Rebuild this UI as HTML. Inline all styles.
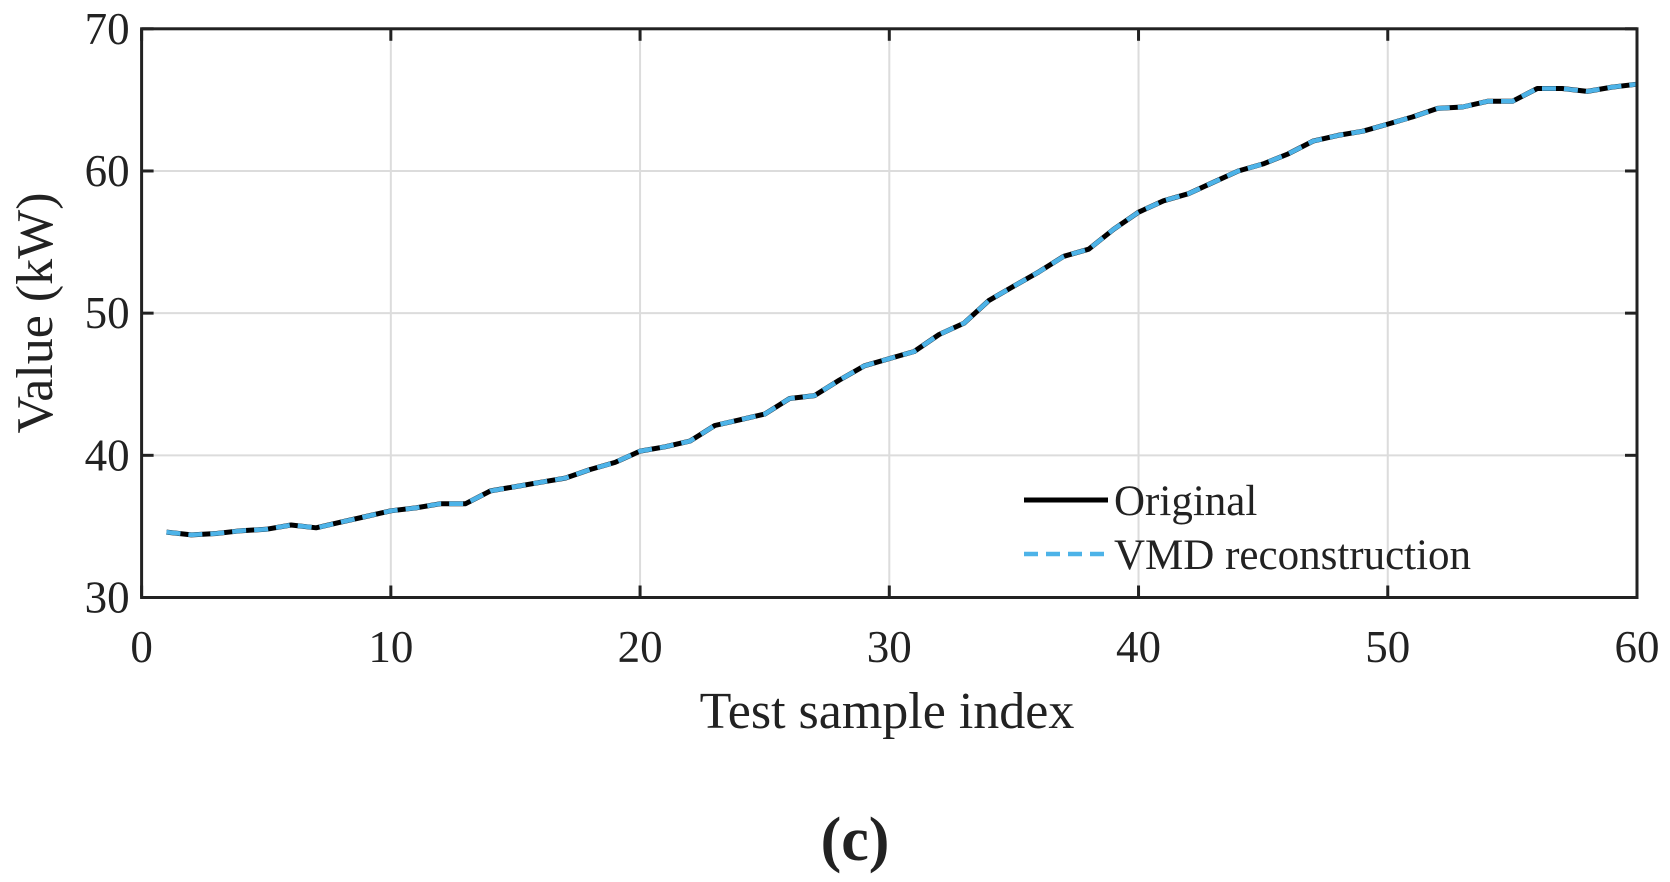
<!DOCTYPE html>
<html><head><meta charset="utf-8"><style>
body{margin:0;background:#fff;}
svg text{font-family:"Liberation Serif",serif;fill:#222;}
</style></head><body>
<svg id="chart" width="1670" height="877" xmlns="http://www.w3.org/2000/svg"></svg>
<script>
const xTicks=[0,10,20,30,40,50,60];
const yTicks=[30,40,50,60,70];
const originalValues=[34.6,34.4,34.5,34.7,34.8,35.1,34.9,35.3,35.7,36.1,36.3,36.6,36.6,37.5,37.8,38.1,38.4,39.0,39.5,40.3,40.6,41.0,42.1,42.5,42.9,44.0,44.2,45.3,46.3,46.8,47.3,48.5,49.3,50.9,51.9,52.9,54.0,54.5,55.9,57.1,57.9,58.4,59.2,60.0,60.5,61.2,62.1,62.5,62.8,63.3,63.8,64.4,64.5,64.9,64.9,65.8,65.8,65.6,65.9,66.1];
const vmdValues=[34.6,34.4,34.5,34.7,34.8,35.1,34.9,35.3,35.7,36.1,36.3,36.6,36.6,37.5,37.8,38.1,38.4,39.0,39.5,40.3,40.6,41.0,42.1,42.5,42.9,44.0,44.2,45.3,46.3,46.8,47.3,48.5,49.3,50.9,51.9,52.9,54.0,54.5,55.9,57.1,57.9,58.4,59.2,60.0,60.5,61.2,62.1,62.5,62.8,63.3,63.8,64.4,64.5,64.9,64.9,65.8,65.8,65.6,65.9,66.1];

const L=141.6,R=1637,T=28.8,B=597.5;
const xs=v=>L+(v-0)/(60-0)*(R-L);
const ys=v=>B-(v-30)/(70-30)*(B-T);
const svg=document.getElementById('chart');
const NS='http://www.w3.org/2000/svg';
function mk(tag,attrs,parent){const e=document.createElementNS(NS,tag);for(const k in attrs)e.setAttribute(k,attrs[k]);(parent||svg).appendChild(e);return e;}

const grid=mk('g',{});


xTicks.forEach(t=>{if(t>0&&t<60)mk('line',{x1:xs(t),x2:xs(t),y1:T,y2:B,stroke:'#dcdcdc','stroke-width':2},grid);});
yTicks.forEach(t=>{if(t>30&&t<70)mk('line',{x1:L,x2:R,y1:ys(t),y2:ys(t),stroke:'#dcdcdc','stroke-width':2},grid);});

const xt=mk('g',{});


xTicks.forEach(t=>{
 mk('line',{x1:xs(t),x2:xs(t),y1:B,y2:B-12,stroke:'#222','stroke-width':3},xt);
 mk('line',{x1:xs(t),x2:xs(t),y1:T,y2:T+12,stroke:'#222','stroke-width':3},xt);
 const tx=mk('text',{x:xs(t),y:662,'text-anchor':'middle','font-size':45},xt);tx.textContent=t;
});
const yt=mk('g',{});


yTicks.forEach(t=>{
 mk('line',{x1:L,x2:L+12,y1:ys(t),y2:ys(t),stroke:'#222','stroke-width':3},yt);
 mk('line',{x1:R,x2:R-12,y1:ys(t),y2:ys(t),stroke:'#222','stroke-width':3},yt);
 const tx=mk('text',{x:L-12,y:ys(t)+15,'text-anchor':'end','font-size':45},yt);tx.textContent=t;
});

const pts=arr=>arr.map((v,i)=>xs(i+1).toFixed(1)+','+ys(v).toFixed(1)).join(' ');
const l1=mk('polyline',{points:pts(originalValues),fill:'none',stroke:'#000','stroke-width':5,'stroke-linejoin':'round'});


const l2=mk('polyline',{points:pts(vmdValues),fill:'none',stroke:'#4db3e8','stroke-width':4.5,'stroke-dasharray':'14 8'});



const frame=mk('rect',{x:L,y:T,width:R-L,height:B-T,fill:'none',stroke:'#222','stroke-width':3});



const lg=mk('g',{});


mk('line',{x1:1024,x2:1108,y1:500,y2:500,stroke:'#000','stroke-width':5},lg);
let t1=mk('text',{x:1114,y:515,'font-size':43},lg);t1.textContent='Original';
mk('line',{x1:1024,x2:1108,y1:554,y2:554,stroke:'#4db3e8','stroke-width':4.5,'stroke-dasharray':'14 8'},lg);
let t2=mk('text',{x:1114,y:569,'font-size':43},lg);t2.textContent='VMD reconstruction';

const xl=mk('text',{x:887,y:728,'text-anchor':'middle','font-size':52});


xl.textContent='Test sample index';
const yl=mk('text',{x:0,y:0,'text-anchor':'middle','font-size':52,transform:'translate(52,313) rotate(-90)'});


yl.textContent='Value (kW)';
const cap=mk('text',{x:855,y:860,'text-anchor':'middle','font-size':62,'font-weight':'bold'});


cap.textContent='(c)';
</script>
</body></html>
